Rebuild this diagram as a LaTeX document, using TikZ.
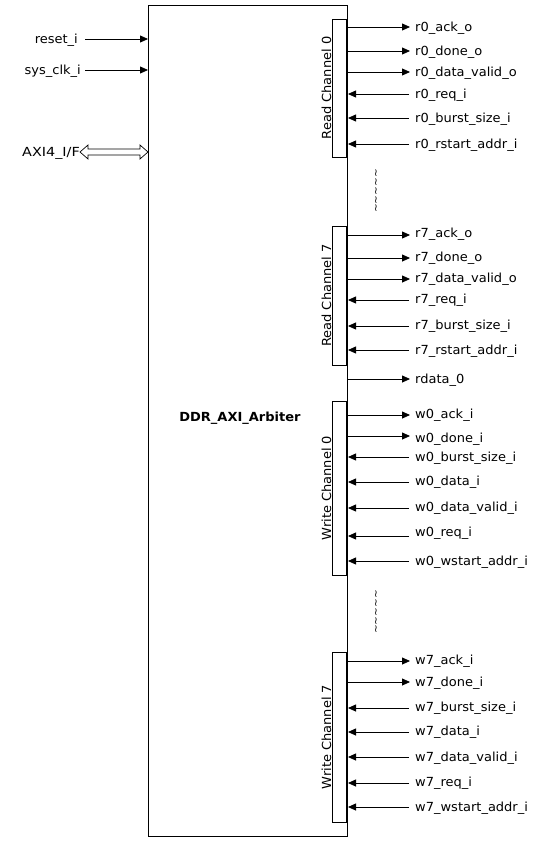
\documentclass[tikz,border=0pt]{standalone}
\usepackage{fontspec}
\setmainfont{DejaVu Sans}[FakeStretch=1.04]
\usetikzlibrary{arrows.meta}
\tikzset{
  lbl/.style={font=\fontsize{12.5}{15}\selectfont, inner sep=0pt, text height=10.5pt, text depth=1.5pt},
  sig/.style={line width=0.8pt, -{Triangle[length=8pt,width=7pt]}},
  chan/.style={draw, line width=0.8pt, minimum width=14pt, inner sep=0pt, anchor=north east},
  chanlbl/.style={font=\fontsize{12.5}{15}\selectfont, inner sep=0pt, rotate=90},
  tildes/.style={font=\fontsize{10}{12}\selectfont, inner sep=0pt, rotate=90},
}
% output signal: name, arrow y, label y, text
\newcommand\outsig[4]{%
  \node[lbl,anchor=west] (#1) at (415,#3) {#4};
  \coordinate (#1-s) at (347,#2);
  \path (#1-s -| #1.west) ++(-5,0) coordinate (#1-e);
  \draw[sig] (#1-s) -- (#1-e);}
% input signal: name, arrow y, label y, text
\newcommand\insig[4]{%
  \node[lbl,anchor=west] (#1) at (415,#3) {#4};
  \coordinate (#1-s) at (348,#2);
  \path (#1-s -| #1.west) ++(-6,0) coordinate (#1-e);
  \draw[sig] (#1-e) -- (#1-s);}
\begin{document}
\begin{tikzpicture}[x=1pt,y=-1pt]
\useasboundingbox (0,0) rectangle (536,843);
\fill[white] (0,0) rectangle (536,843);
% main block
\node[draw, line width=0.8pt, minimum width=199pt, minimum height=831pt,
      anchor=north west, inner sep=0pt] (box) at (148,5) {};
\node[lbl, font=\fontsize{12.5}{15}\selectfont\bfseries] (title) at (240,417) {DDR\_AXI\_Arbiter};
% left side
\node[lbl,anchor=east] (rst) at (78,39) {reset\_i};
\node[lbl,anchor=east] (clk) at (81,70) {sys\_clk\_i};
\node[lbl,anchor=east] (axi) at (80,152) {\addfontfeature{FakeStretch=1.15}AXI4\_I/F};
\coordinate (rst-e) at (148,39);
\coordinate (clk-e) at (148,70);
\draw[sig] ([xshift=7pt]rst.east) -- (rst-e);
\draw[sig] ([xshift=4pt]clk.east) -- (clk-e);
\coordinate (axi-e) at (148,152);
\draw[line width=0.7pt, fill=white] (axi.east) -- ++(8,-7) -- ++(0,4) -- ([xshift=-8pt,yshift=3pt]axi-e) -- ++(0,-4) -- (axi-e)
  -- ++(-8,7) -- ++(0,-4) -- ([xshift=8pt,yshift=-3pt]axi.east) -- ++(0,4) -- cycle;
% channel boxes
\node[chan, minimum height=138pt] (rc0) at (347,19) {};
\node[chan, minimum height=139pt] (rc7) at (347,226) {};
\node[chan, minimum height=174pt] (wc0) at (347,401) {};
\node[chan, minimum height=170pt] (wc7) at (347,652) {};
\node[chanlbl] at (326.5,88) {Read Channel 0};
\node[chanlbl] at (326.5,295.5) {Read Channel 7};
\node[chanlbl] at (326.5,488) {Write Channel 0};
\node[chanlbl] at (326.5,737) {Write Channel 7};
% ellipsis marks
\node[tildes] (gap1) at (377,191) {\textasciitilde\textasciitilde\textasciitilde\textasciitilde\textasciitilde};
\node[tildes] (gap2) at (377,612) {\textasciitilde\textasciitilde\textasciitilde\textasciitilde\textasciitilde};
% read channel 0
\outsig{r0a}{27}{27}{r0\_ack\_o}
\outsig{r0d}{51}{51}{r0\_done\_o}
\outsig{r0v}{72}{72}{r0\_data\_valid\_o}
\insig{r0r}{94}{94}{r0\_req\_i}
\insig{r0b}{118}{118}{r0\_burst\_size\_i}
\insig{r0s}{144}{144}{r0\_rstart\_addr\_i}
% read channel 7
\outsig{r7a}{235}{233}{r7\_ack\_o}
\outsig{r7d}{258}{257}{r7\_done\_o}
\outsig{r7v}{279}{278}{r7\_data\_valid\_o}
\insig{r7r}{300}{299}{r7\_req\_i}
\insig{r7b}{326}{325}{r7\_burst\_size\_i}
\insig{r7s}{350}{350}{r7\_rstart\_addr\_i}
\outsig{rd0}{379}{379}{rdata\_0}
% write channel 0
\outsig{w0a}{415}{414}{w0\_ack\_i}
\outsig{w0d}{436}{438}{w0\_done\_i}
\insig{w0b}{457}{457}{w0\_burst\_size\_i}
\insig{w0x}{482}{481}{w0\_data\_i}
\insig{w0v}{508}{507}{w0\_data\_valid\_i}
\insig{w0r}{536}{532}{w0\_req\_i}
\insig{w0s}{561}{561}{w0\_wstart\_addr\_i}
% write channel 7
\outsig{w7a}{661}{660}{w7\_ack\_i}
\outsig{w7d}{682}{682}{w7\_done\_i}
\insig{w7b}{708}{707}{w7\_burst\_size\_i}
\insig{w7x}{732}{731}{w7\_data\_i}
\insig{w7v}{757}{757}{w7\_data\_valid\_i}
\insig{w7r}{783}{782}{w7\_req\_i}
\insig{w7s}{807}{807}{w7\_wstart\_addr\_i}
\end{tikzpicture}
\end{document}
